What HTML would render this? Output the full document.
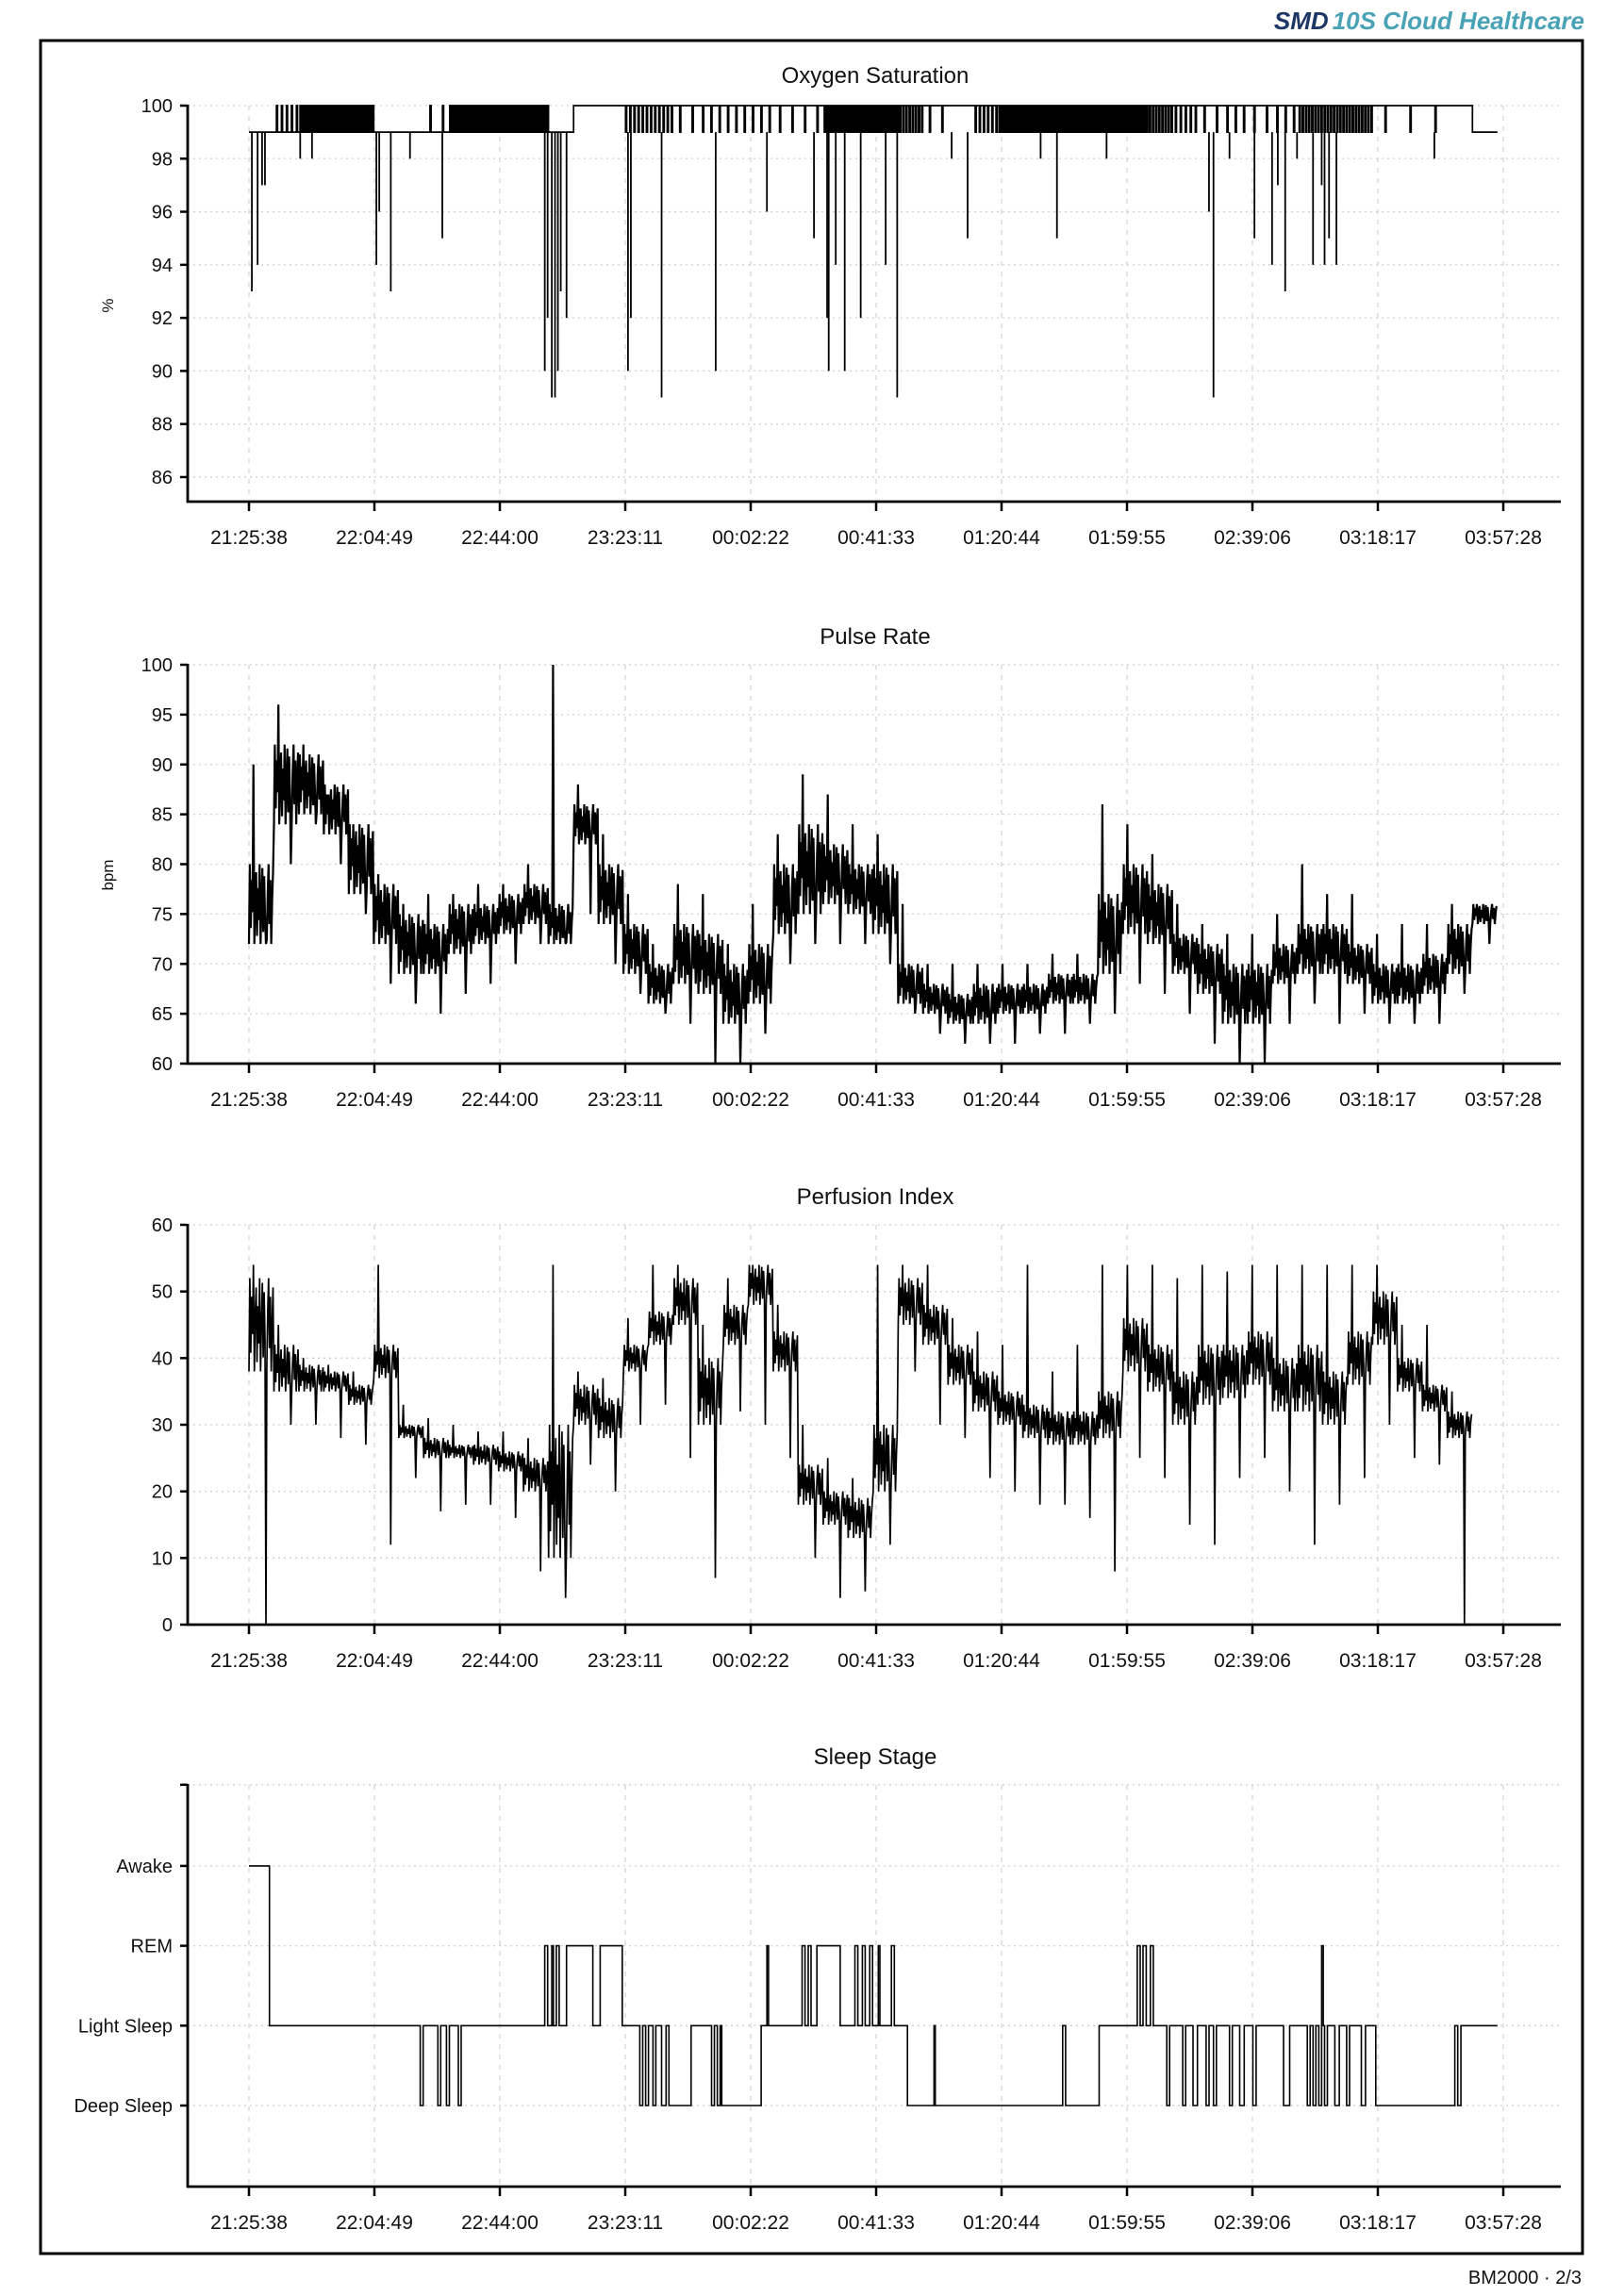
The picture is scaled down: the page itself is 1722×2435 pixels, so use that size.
<!DOCTYPE html>
<html><head><meta charset="utf-8"><title>BM2000 report 2/3</title>
<style>
html,body{margin:0;padding:0;background:#fff;}
svg{display:block;font-family:"Liberation Sans",sans-serif;}
</style></head>
<body>
<svg id="page" width="1722" height="2435" viewBox="0 0 1722 2435" xmlns="http://www.w3.org/2000/svg">
<rect x="0" y="0" width="1722" height="2435" fill="#fff"/>
<text x="1680" y="31" text-anchor="end" font-size="26" font-weight="bold" font-style="italic"><tspan fill="#1c3764">SMD</tspan><tspan fill="#4aa2b6" dx="4">10S Cloud Healthcare</tspan></text>
<rect x="43" y="43" width="1635" height="2347" fill="none" stroke="#000" stroke-width="3"/>
<text x="1677" y="2422" text-anchor="end" font-size="20" fill="#111">BM2000 · 2/3</text>
<g id="charts"></g>
</svg>
<script>
// ---------- shared data ----------
const tickLabels = ["21:25:38","22:04:49","22:44:00","23:23:11","00:02:22","00:41:33","01:20:44","01:59:55","02:39:06","03:18:17","03:57:28"];
const tickIntervalMin = 39.183;
const binMin = 7.8;

// SpO2 (per 7.8-min bin): base level and number of short excursions to the other level
const spo2Base = [99,99,99,99,99,99,99,99,99,99,99,99,99,100,100,100,100,100,100,100,100,100,100,100,100,100,100,100,100,100,100,100,100,100,100,100,100,100,100,100,100,100,100,100,100,100,100,100,100,99];
const spo2Toggles = [0,5,12,12,12,0,0,2,12,12,12,12,0,0,0,6,6,2,3,3,3,2,2,12,12,12,8,2,0,6,12,12,12,12,12,12,8,5,2,3,2,3,8,8,8,1,1,1,0,0];
const spo2DipMin = [0.9,2.7,4.1,5.0,16.0,19.7,39.8,40.7,44.3,50.3,60.4,92.4,93.3,94.6,95.6,96.5,97.4,99.2,118.4,119.3,128.9,145.8,161.8,176.5,180.6,181.1,183.3,186.1,191.1,198.9,202.5,219.5,224.5,247.3,252.4,267.9,299.9,301.3,306.3,314.1,319.6,321.4,323.7,327.4,332.4,335.1,336.0,337.4,339.7,361.2,370.3];
const spo2DipVal = [93,94,97,97,98,98,94,96,93,98,95,90,92,89,89,90,93,92,90,92,89,90,96,95,92,90,94,90,92,94,89,98,95,98,95,98,96,89,98,95,94,97,93,98,94,97,94,95,94,99,98];

// Pulse rate (bpm) per bin
const pulseCoreLo = [72,84,85,83,77,72,69,69,71,72,73,74,72,82,74,69,66,68,67,64,66,73,75,76,75,73,66,65,64,64,65,65,66,66,69,73,72,69,67,64,64,68,69,69,68,66,66,67,69,74];
const pulseCoreHi = [80,92,91,88,84,78,75,74,76,76,77,78,76,86,80,74,70,74,73,70,72,80,84,82,80,80,70,68,67,68,68,68,69,69,77,80,78,73,72,70,70,72,74,74,72,70,70,71,74,76];
const pulseMin = [72,80,84,80,75,68,66,65,67,68,70,72,72,75,70,67,65,64,60,60,63,70,72,72,72,70,65,63,62,62,62,63,63,64,65,68,67,65,62,60,60,64,66,64,65,64,64,64,67,72];
const pulseMax = [90,96,92,87,84,79,76,77,77,78,78,80,100,88,83,77,72,78,77,72,76,83,89,87,84,83,76,70,70,70,70,70,71,71,86,84,81,76,74,73,73,75,80,77,77,73,74,74,76,76];

// Perfusion index per bin
const perfCoreLo = [38,35,35,35,33,37,28,25,25,24,23,20,10,30,28,38,42,45,30,42,48,38,18,15,13,20,45,42,36,32,30,28,27,27,28,38,35,30,33,34,36,32,32,30,36,42,35,32,28];
const perfCoreHi = [52,42,39,38,36,42,30,28,27,27,26,25,30,36,34,42,47,52,40,48,54,44,24,20,19,30,52,48,42,38,35,33,32,32,35,46,42,38,42,42,44,40,42,38,44,50,40,36,32];
const perfMin = [0,30,30,28,27,12,22,17,18,18,16,8,4,24,20,30,33,25,7,32,30,25,10,4,5,12,38,30,28,22,20,18,18,16,8,25,22,15,12,22,25,20,12,18,22,30,25,24,0];
const perfMax = [54,45,40,39,38,54,33,31,30,29,29,28,54,38,37,46,54,54,45,52,54,48,30,25,22,54,54,54,46,44,42,54,38,42,54,54,54,52,54,53,54,54,54,54,54,54,45,45,35];

// Sleep stage transitions (minutes from start, stage: 0 deep,1 light,2 REM,3 awake)
const sleepLabels = ["Deep Sleep","Light Sleep","REM","Awake"];
const sleepMin = [0,6.4,53.5,54.4,59.0,59.9,61.7,62.6,65.4,66.3,92.4,93.3,94.6,95.1,96.0,96.9,99.2,107.4,109.7,116.6,122.1,123.0,123.9,124.8,126.2,127.1,128.9,130.3,131.2,138.1,144.5,145.4,146.3,147.2,147.7,160.0,161.8,162.3,172.8,173.7,174.7,175.6,177.4,184.7,189.3,190.2,191.6,192.5,193.9,194.8,196.6,197.1,200.7,201.6,205.7,214.0,214.4,254.2,255.1,265.6,277.5,278.4,279.3,280.3,281.6,282.5,286.7,287.6,291.7,292.6,294.9,296.3,299.0,299.9,301.3,302.2,306.3,307.2,309.5,310.9,313.6,314.6,323.2,325.1,330.6,331.5,332.4,333.3,334.2,335.1,335.6,336.0,336.9,339.2,340.6,342.9,343.8,347.5,348.8,352.0,376.7,377.6,378.6];
const sleepStage = [3,1,0,1,0,1,0,1,0,1,2,1,2,1,2,1,2,1,2,1,0,1,0,1,0,1,0,1,0,1,0,1,0,1,0,1,2,1,2,1,2,1,2,1,2,1,2,1,2,1,2,1,2,1,0,1,0,1,0,1,2,1,2,1,2,1,0,1,0,1,0,1,0,1,0,1,0,1,0,1,0,1,0,1,0,1,0,1,0,2,1,0,1,0,1,0,1,0,1,0,1,0,1];
const sleepEndMin = 390;

// ---------- helpers ----------
const NS = "http://www.w3.org/2000/svg";
const root = document.getElementById("charts");
function mk(tag, attrs, parent){
  const e = document.createElementNS(NS, tag);
  for (const k in attrs) e.setAttribute(k, attrs[k]);
  (parent||root).appendChild(e);
  return e;
}
const X0 = 264, XPX = 133, SPINE_L = 199, SPINE_R = 1655;
function xScale(m){ return X0 + m / tickIntervalMin * XPX; }

function drawAxes(g, cfg){
  cfg.yTicks.forEach((v,i)=>{
    const y = cfg.y(v);
    const gl = mk("line",{x1:SPINE_L,x2:SPINE_R,y1:y,y2:y,stroke:"#cfcfcf","stroke-width":1.3,"stroke-dasharray":"2,4"},g);
    
    
    const tk = mk("line",{x1:SPINE_L-8,x2:SPINE_L,y1:y,y2:y,stroke:"#000","stroke-width":2.5},g);
    
    
    const lbl = cfg.yLabels ? cfg.yLabels[i] : String(v);
    if (lbl !== ""){
      const t = mk("text",{x:SPINE_L-16,y:y+7,"text-anchor":"end","font-size":20,fill:"#111"},g);
      t.textContent = lbl;
      
      
    }
  });
  tickLabels.forEach((lab,i)=>{
    const x = X0 + i*XPX;
    const gl = mk("line",{x1:x,x2:x,y1:cfg.top,y2:cfg.bottom,stroke:"#d6d6d6","stroke-width":1.3,"stroke-dasharray":"5,6"},g);
    
    
    const tk = mk("line",{x1:x,x2:x,y1:cfg.bottom,y2:cfg.bottom+10,stroke:"#000","stroke-width":2.5},g);
    
    
    const t = mk("text",{x:x,y:cfg.bottom+45,"text-anchor":"middle","font-size":21,fill:"#111"},g);
    t.textContent = lab;
    
    
  });
  const ls = mk("line",{x1:SPINE_L,x2:SPINE_L,y1:cfg.top-1,y2:cfg.bottom+1,stroke:"#000","stroke-width":2.8},g);
  
  
  const bs = mk("line",{x1:SPINE_L-1,x2:SPINE_R,y1:cfg.bottom,y2:cfg.bottom,stroke:"#000","stroke-width":2.8},g);
  
  
  const tt = mk("text",{x:928,y:cfg.titleY,"text-anchor":"middle","font-size":24,fill:"#111"},g);
  tt.textContent = cfg.title;
  
  
  if (cfg.unit){
    const u = mk("text",{x:0,y:0,"text-anchor":"middle","font-size":17,fill:"#111",transform:`translate(120 ${cfg.unitY}) rotate(-90)`},g);
    u.textContent = cfg.unit;
    
    
  }
}

const zig = [0,1,0.2,0.8,0.4,1,0,0.6,0.9,0.1,0.7,0.3,1,0,0.5,0.95,0.15,0.85,0.35,0.75,0.05,0.65,1,0.25,0.8,0,0.55,0.9];
const spikeHiIdx = 5, spikeLoIdx = 19;
function noisyPath(coreLo, coreHi, mins, maxs, y){
  let d = "";
  const n = zig.length;
  for (let k=0;k<coreLo.length;k++){
    for (let j=0;j<n;j++){
      const m = (k + j/n) * binMin;
      let v = coreLo[k] + zig[j]*(coreHi[k]-coreLo[k]);
      if (j===spikeHiIdx) v = maxs[k];
      if (j===spikeLoIdx) v = mins[k];
      d += (d===""?"M":"L") + xScale(m).toFixed(1) + " " + y(v).toFixed(1);
    }
  }
  return d;
}

// ---------- chart 1: SpO2 ----------
{
  const g = mk("g",{});
  
  
  const y = v => 112 + (100 - v) * 28.14;
  drawAxes(g,{y, yTicks:[100,98,96,94,92,90,88,86], top:112, bottom:532, titleY:88, title:"Oxygen Saturation", unit:"%", unitY:324});
  let d = "";
  for (let k=0;k<spo2Base.length;k++){
    const t = spo2Toggles[k];
    const base = spo2Base[k];
    const other = base === 100 ? 99 : 100;
    const x0 = xScale(k*binMin), x1 = xScale((k+1)*binMin);
    const yb = y(base), yo = y(other);
    d += (d===""?"M":"L") + x0.toFixed(1)+" "+yb.toFixed(1);
    for (let s=0;s<t;s++){
      const xa = x0 + (x1-x0)*(s+0.5)/t;
      const w = Math.min(1.2, (x1-x0)/t*0.45);
      d += "L"+xa.toFixed(1)+" "+yb.toFixed(1)+"L"+xa.toFixed(1)+" "+yo.toFixed(1)+"L"+(xa+w).toFixed(1)+" "+yo.toFixed(1)+"L"+(xa+w).toFixed(1)+" "+yb.toFixed(1);
    }
    d += "L"+x1.toFixed(1)+" "+yb.toFixed(1);
  }
  const p = mk("path",{d, fill:"none", stroke:"#000","stroke-width":1.7},g);
  
  
  spo2DipMin.forEach((m,i)=>{
    const x = xScale(m);
    const ln = mk("line",{x1:x,x2:x,y1:y(99),y2:y(spo2DipVal[i]),stroke:"#000","stroke-width":1.8},g);
    
    
  });
}

// ---------- chart 2: Pulse ----------
{
  const g = mk("g",{});
  
  
  const y = v => 705 + (100 - v) * (423/40);
  drawAxes(g,{y, yTicks:[100,95,90,85,80,75,70,65,60], top:705, bottom:1128, titleY:683, title:"Pulse Rate", unit:"bpm", unitY:928});
  const p = mk("path",{d:noisyPath(pulseCoreLo,pulseCoreHi,pulseMin,pulseMax,y), fill:"none", stroke:"#000","stroke-width":2.2,"stroke-linejoin":"miter"},g);
  
  
}

// ---------- chart 3: Perfusion ----------
{
  const g = mk("g",{});
  
  
  const y = v => 1299 + (60 - v) * (424/60);
  drawAxes(g,{y, yTicks:[60,50,40,30,20,10,0], top:1299, bottom:1723, titleY:1277, title:"Perfusion Index"});
  const p = mk("path",{d:noisyPath(perfCoreLo,perfCoreHi,perfMin,perfMax,y), fill:"none", stroke:"#000","stroke-width":1.7},g);
  
  
}

// ---------- chart 4: Sleep stage ----------
{
  const g = mk("g",{});
  
  
  const y = s => 2233 - s * 84.7;
  const yTicksS = [4,3,2,1,0];
  drawAxes(g,{y:s=>y(s)-(s===4?1.4:0), yTicks:yTicksS, yLabels:["","Awake","REM","Light Sleep","Deep Sleep"], top:1893, bottom:2319, titleY:1871, title:"Sleep Stage"});
  let d = "";
  for (let i=0;i<sleepMin.length;i++){
    const x = xScale(sleepMin[i]).toFixed(1);
    const yy = y(sleepStage[i]).toFixed(1);
    d += (i===0 ? "M"+x+" "+yy : "L"+x+" "+y(sleepStage[i-1]).toFixed(1)+"L"+x+" "+yy);
  }
  d += "L"+xScale(sleepEndMin).toFixed(1)+" "+y(sleepStage[sleepStage.length-1]).toFixed(1);
  const p = mk("path",{d, fill:"none", stroke:"#000","stroke-width":1.6},g);
  
  
}
</script>
</body></html>
